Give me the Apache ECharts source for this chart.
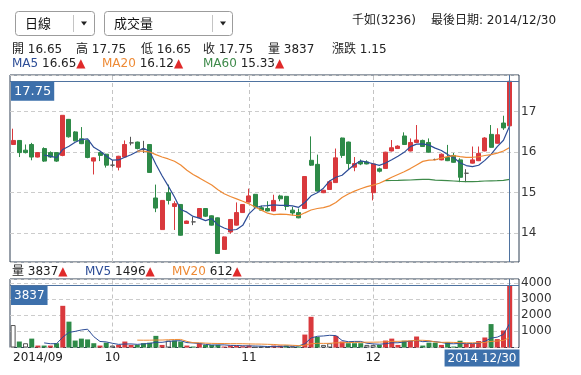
<!DOCTYPE html>
<html><head><meta charset="utf-8">
<script src="https://cdn.jsdelivr.net/npm/echarts@6/dist/echarts.min.js"></script>
<style>html,body{margin:0;padding:0;background:#fff}#c{width:581px;height:375px}</style>
</head><body><div id="c"></div>
<script>
// ---- data ----
const dates = [
'2014/09/05','2014/09/09','2014/09/10','2014/09/11','2014/09/12','2014/09/15','2014/09/16','2014/09/17','2014/09/18','2014/09/19',
'2014/09/22','2014/09/23','2014/09/24','2014/09/25','2014/09/26','2014/09/29','2014/09/30',
'2014/10/01','2014/10/02','2014/10/03','2014/10/06','2014/10/07','2014/10/08','2014/10/09','2014/10/13','2014/10/14','2014/10/15',
'2014/10/16','2014/10/17','2014/10/20','2014/10/21','2014/10/22','2014/10/23','2014/10/24','2014/10/27','2014/10/28','2014/10/29',
'2014/10/30','2014/10/31',
'2014/11/03','2014/11/04','2014/11/05','2014/11/06','2014/11/07','2014/11/10','2014/11/11','2014/11/12','2014/11/13','2014/11/14',
'2014/11/17','2014/11/18','2014/11/19','2014/11/20','2014/11/21','2014/11/24','2014/11/25','2014/11/26','2014/11/27','2014/11/28',
'2014/12/01','2014/12/02','2014/12/03','2014/12/04','2014/12/05','2014/12/08','2014/12/09','2014/12/10','2014/12/11','2014/12/12',
'2014/12/15','2014/12/16','2014/12/17','2014/12/18','2014/12/19','2014/12/22','2014/12/23','2014/12/24','2014/12/25','2014/12/26',
'2014/12/29','2014/12/30'];
const open = [16.19,16.29,16.05,16.19,15.88,16.09,15.99,15.99,15.92,16.81,
16.50,16.33,16.29,15.78,15.99,15.95,15.68,15.63,15.88,16.23,
16.25,16.07,16.19,14.87,14.09,15.00,14.66,14.71,14.24,14.28,
14.38,14.61,14.43,14.38,13.60,14.03,14.20,14.51,14.77,14.96,
14.63,14.61,14.55,14.92,14.91,14.57,14.51,14.61,15.80,15.70,
15.00,15.08,15.25,16.35,16.25,15.63,15.77,15.76,15.00,15.59,
15.60,16.03,16.09,16.40,16.03,16.24,16.29,16.24,15.82,15.81,
15.87,15.92,15.81,15.48,15.73,15.79,16.03,16.44,16.22,16.72,16.65];
const close = [16.29,15.99,15.99,15.88,15.99,15.78,15.88,15.78,16.91,16.38,
16.28,16.21,15.87,15.86,15.92,15.68,15.68,15.90,16.19,16.23,
16.09,16.07,15.50,14.62,14.81,14.81,14.73,13.95,14.30,14.28,
14.61,14.42,14.20,13.50,13.91,14.34,14.51,14.71,14.92,14.65,
14.57,14.55,14.81,14.85,14.66,14.50,14.38,15.40,15.68,15.04,
15.06,15.27,15.86,15.92,15.72,15.72,15.71,15.71,15.71,15.53,
16.00,16.11,16.15,16.19,16.24,16.30,16.14,16.00,15.82,15.95,
15.79,15.75,15.38,15.48,15.81,15.97,16.35,16.12,16.43,16.60,17.75];
const low = [16.18,15.88,15.97,15.80,15.87,15.76,15.86,15.76,15.90,16.36,
16.27,16.20,15.85,15.45,15.78,15.62,15.63,15.55,15.87,16.17,
16.07,15.98,15.49,14.52,14.08,14.71,14.08,13.94,14.23,14.20,
14.37,14.40,14.19,13.49,13.59,13.99,14.19,14.50,14.76,14.63,
14.56,14.54,14.54,14.79,14.57,14.44,14.37,14.60,15.66,15.03,
14.99,15.07,15.24,15.86,15.58,15.53,15.68,15.70,14.81,15.50,
15.59,16.02,16.08,16.18,16.02,16.23,16.13,15.99,15.80,15.80,
15.78,15.74,15.26,15.26,15.72,15.78,16.02,16.11,16.21,16.55,16.65];
const high = [16.58,16.30,16.19,16.23,16.00,16.12,16.02,16.00,16.91,16.82,
16.52,16.62,16.30,15.87,16.00,15.96,15.80,15.91,16.29,16.38,
16.26,16.28,16.20,15.20,14.82,15.20,14.79,14.72,14.31,14.40,
14.62,14.62,14.44,14.39,13.92,14.35,14.76,14.72,15.10,14.97,
14.68,14.79,14.95,14.95,14.92,14.65,14.61,15.41,16.39,15.94,
15.07,15.30,16.09,16.36,16.26,15.88,15.82,15.80,15.72,15.62,
16.01,16.30,16.17,16.49,16.34,16.67,16.31,16.34,15.84,15.97,
16.18,15.98,15.85,15.58,16.14,16.14,16.37,16.67,16.59,16.90,17.75];
const volume = [1390,370,265,550,120,120,120,265,2580,1600,
430,550,500,265,120,300,120,160,370,160,
160,265,300,720,160,430,430,370,120,60,
265,160,160,160,60,120,120,80,120,20,
60,20,120,120,120,60,60,800,1900,650,
160,265,720,370,265,265,265,160,160,160,
430,550,160,420,420,680,120,300,300,160,
330,60,420,220,220,400,620,1450,520,1053,3837];
// change direction vs previous day (1 up, -1 down, 0 flat)
const volDir = [0,-1,0,-1,1,-1,1,-1,1,-1,
-1,-1,-1,-1,1,-1,0,1,1,1,
-1,-1,-1,-1,1,0,-1,-1,1,-1,
1,-1,-1,-1,1,1,1,1,1,0,
0,0,1,1,-1,0,-1,1,1,-1,
0,0,1,1,-1,-1,-1,0,0,-1,
1,1,1,-1,1,1,-1,-1,-1,1,
-1,-1,-1,1,1,1,1,-1,1,1,1];
const stockTitle = ['千如(3236)', '最後日期: 2014/12/30'];
const quoteLabels = ['開','高','低','收','量','漲跌'];
const quoteValues = ['16.65','17.75','16.65','17.75','3837','1.15'];
const maNames = ['MA5','MA20','MA60'];
const maValues = ['16.65','16.12','15.33'];
const mvNames = ['量','MV5','MV20'];
const mvValues = ['3837','1496','612'];
const priceRange = [13.29, 17.905];
const volRange = [0, 4240];
const volStep = 1000;

// ---- styling ----
const FONT = '"DejaVu Sans", "Noto Sans CJK TC", sans-serif';
const CJK = '"Noto Sans CJK TC", "DejaVu Sans", sans-serif';
const RED = '#d9393d', GREEN = '#2e8a48';
const C_MA5 = '#2d4d97', C_MA20 = '#ee8a35', C_MA60 = '#3e8a4a';
const CROSS = '#4f73a0', LABELBG = '#3d70ab';
const BORDER = '#2e3f52';

function movingAvg(src, n) {
  const out = [];
  for (let i = 0; i < src.length; i++) {
    if (i < n) { out.push('-'); continue; }
    let s = 0;
    for (let k = i - n + 1; k <= i; k++) s += src[k];
    out.push(+(s / n).toFixed(4));
  }
  return out;
}
const last = dates.length - 1;
const cats = dates.concat(['']);
const monthEnd = i => i < last && dates[i].slice(5, 7) !== dates[i + 1].slice(5, 7);
const monthLines = dates.map((d, i) => i).filter(monthEnd).map(i => ({ xAxis: dates[i] }));

const dashed = { show: true, lineStyle: { color: '#cccccc', type: [4, 3], width: 1 } };
const monthMark = { silent: true, symbol: ['none', 'none'], label: { show: false }, z: 2, animation: false,
  lineStyle: { color: '#c4c4c4', type: [4, 3], width: 1 }, emphasis: { disabled: true }, data: monthLines };

const chart = echarts.init(document.getElementById('c'), null, { renderer: 'canvas' });
const option = {
  animation: false,
  textStyle: { fontFamily: FONT },
  grid: [
    { left: 10, top: 75, width: 509, height: 187, show: true, borderColor: BORDER, borderWidth: 1, backgroundColor: '#fff' },
    { left: 10, top: 279, width: 509, height: 68.5, show: true, borderColor: BORDER, borderWidth: 1, backgroundColor: '#fff' }
  ],
  xAxis: [
    { type: 'category', gridIndex: 0, data: cats, boundaryGap: true,
      axisLine: { show: false }, axisTick: { show: false }, axisLabel: { show: false }, splitLine: { show: false } },
    { type: 'category', gridIndex: 1, data: cats, boundaryGap: true,
      axisLine: { show: false }, axisTick: { show: false }, splitLine: { show: false },
      axisLabel: { show: true, color: '#222', fontSize: 12, fontFamily: FONT, margin: 4,
        alignMinLabel: 'left',
        interval: (i) => i === 0 || monthEnd(i),
        formatter: (v, i) => i === 0 ? dates[0].slice(0, 7) : (i < last ? dates[i + 1].slice(5, 7) : '') } }
  ],
  yAxis: [
    { type: 'value', gridIndex: 0, position: 'right', min: priceRange[0], max: priceRange[1],
      axisLine: { show: false }, axisTick: { show: false }, splitLine: dashed,
      axisLabel: { color: '#333', fontSize: 12, fontFamily: FONT, margin: 2,
        formatter: v => (Math.abs(v - Math.round(v)) < 1e-6 && v > priceRange[0] && v < priceRange[1]) ? String(Math.round(v)) : '' } },
    { type: 'value', gridIndex: 1, position: 'right', min: volRange[0], max: volRange[1], interval: volStep,
      axisLine: { show: false }, axisTick: { show: false }, splitLine: dashed,
      axisLabel: { color: '#333', fontSize: 12, fontFamily: FONT, margin: 2,
        formatter: v => (v > 0 && v % volStep === 0) ? String(v) : '' } }
  ],
  series: [
    { type: 'candlestick', name: 'K', xAxisIndex: 0, yAxisIndex: 0, z: 3, barWidth: 4.5,
      data: open.map((o, i) => [o, close[i], low[i], high[i]]),
      itemStyle: { color: RED, color0: GREEN, borderColor: RED, borderColor0: GREEN, borderColorDoji: '#555', borderWidth: 1 },
      markLine: { silent: true, symbol: ['none', 'none'], label: { show: false }, z: 6, animation: false,
        lineStyle: { color: CROSS, type: 'solid', width: 1 },
        data: [{ xAxis: dates[last] }, { yAxis: close[last] }] } },
    { type: 'line', name: 'MA5', xAxisIndex: 0, yAxisIndex: 0, z: 4, data: movingAvg(close, 5), showSymbol: false, silent: true,
      lineStyle: { color: C_MA5, width: 1.2 } },
    { type: 'line', name: 'MA20', xAxisIndex: 0, yAxisIndex: 0, z: 4, data: movingAvg(close, 20), showSymbol: false, silent: true,
      lineStyle: { color: C_MA20, width: 1.2 } },
    { type: 'line', name: 'MA60', xAxisIndex: 0, yAxisIndex: 0, z: 4, data: movingAvg(close, 60), showSymbol: false, silent: true,
      lineStyle: { color: C_MA60, width: 1.2 }, markLine: monthMark },
    { type: 'bar', name: 'VOL', xAxisIndex: 1, yAxisIndex: 1, z: 3, barWidth: 5,
      data: volume.map((v, i) => ({ value: v, itemStyle: volDir[i] > 0 ? { color: RED } : volDir[i] < 0 ? { color: GREEN } : { color: '#fff', borderColor: '#555', borderWidth: 1 } })),
      markLine: { silent: true, symbol: ['none', 'none'], label: { show: false }, z: 6, animation: false,
        lineStyle: { color: CROSS, type: 'solid', width: 1 },
        data: [{ xAxis: dates[last] }, { yAxis: volume[last] }] } },
    { type: 'line', name: 'MV5', xAxisIndex: 1, yAxisIndex: 1, z: 4, data: movingAvg(volume, 5), showSymbol: false, silent: true,
      lineStyle: { color: C_MA5, width: 1 } },
    { type: 'line', name: 'MV20', xAxisIndex: 1, yAxisIndex: 1, z: 4, data: movingAvg(volume, 20), showSymbol: false, silent: true,
      lineStyle: { color: C_MA20, width: 1 }, markLine: monthMark }
  ]
};
chart.setOption(option);

// ---- header / labels ----
const g = [];
function txt(x, y, text, opt) {
  g.push(Object.assign({ type: 'text', x: x, y: y, silent: true, z: 100,
    style: Object.assign({ text: text, font: '12px ' + FONT, fill: '#222', align: 'left', verticalAlign: 'middle' }, opt || {}) }));
}
function dropdown(x, w, sepX, label) {
  g.push({ type: 'rect', silent: true, z: 90, shape: { x: x + 0.5, y: 11.5, width: w, height: 24, r: 3 }, style: { fill: '#fff', stroke: '#9c9c9c', lineWidth: 1 } });
  g.push({ type: 'line', silent: true, z: 91, shape: { x1: sepX + 0.5, y1: 15, x2: sepX + 0.5, y2: 32 }, style: { stroke: '#c4c4c4', lineWidth: 1 } });
  g.push({ type: 'polygon', silent: true, z: 91, shape: { points: [[sepX + 8, 21.5], [sepX + 14, 21.5], [sepX + 11, 25.5]] }, style: { fill: '#222' } });
  txt(x + 10, 23.5, label, { font: '13px ' + CJK, fill: '#111' });
}
dropdown(15, 79, 73, '日線');
dropdown(104, 128, 212, '成交量');
txt(352, 20.5, stockTitle[0]);
txt(431, 20.5, stockTitle[1]);
const qx = [12, 76, 141, 203, 268, 332];
quoteLabels.forEach((l, i) => txt(qx[i], 49.5, l + ' ' + quoteValues[i]));
function legendRow(y, xs, names, values, colors) {
  names.forEach((n, i) => {
    g.push({ type: 'text', x: xs[i], y: y, silent: true, z: 100,
      style: { text: '{n|' + n + '} {v|' + values[i] + '}{t|▲}', font: '12px ' + FONT, verticalAlign: 'middle', fill: '#222',
        rich: { n: { fill: colors[i], color: colors[i], font: '12px ' + FONT },
                v: { fill: '#222', color: '#222', font: '12px ' + FONT },
                t: { fill: '#e02a2a', color: '#e02a2a', font: '12px ' + FONT } } } });
  });
}
legendRow(64, [12, 102, 203], maNames, maValues, [C_MA5, C_MA20, C_MA60]);
legendRow(271.5, [12, 85, 172], mvNames, mvValues, ['#222', C_MA5, C_MA20]);

const pPrice = chart.convertToPixel({ gridIndex: 0 }, [dates[last], close[last]]);
const pVol = chart.convertToPixel({ gridIndex: 1 }, [dates[last], volume[last]]);
const gridRight = 10 + 509;
function valueBox(x, y, text, size, align, pad) {
  g.push({ type: 'text', x: x, y: y, silent: true, z: 110,
    style: { text: text, font: size + 'px ' + FONT, fill: '#fff', backgroundColor: LABELBG, padding: pad, align: align, verticalAlign: 'top' } });
}
valueBox(11, pPrice[1] + 0.5, close[last].toFixed(2), 13, 'left', [3, 3, 3, 3]);
valueBox(11, pVol[1] + 0.5, String(volume[last]), 12, 'left', [4, 3, 3, 3]);
valueBox(gridRight + 0.5, 349.5, dates[last].slice(0, 4) + ' ' + dates[last].slice(5), 12, 'right', [3, 3, 2, 3]);

chart.setOption({ graphic: g });
</script></body></html>
